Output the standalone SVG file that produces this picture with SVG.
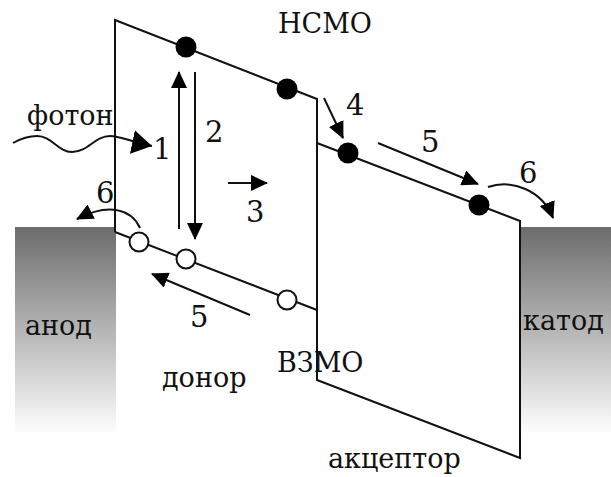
<svg xmlns="http://www.w3.org/2000/svg" width="611" height="477" viewBox="0 0 611 477">
<defs>
<linearGradient id="electrode" x1="0" y1="0" x2="0" y2="1">
<stop offset="0" stop-color="#6c6c6c"/>
<stop offset="1" stop-color="#ffffff"/>
</linearGradient>
<marker id="ah" markerWidth="18" markerHeight="16" refX="16" refY="8" orient="auto" markerUnits="userSpaceOnUse">
<path d="M0,0 L17,8 L0,16 Z" fill="#000"/>
</marker>
<marker id="ahBig" markerWidth="22" markerHeight="24" refX="20" refY="12" orient="auto" markerUnits="userSpaceOnUse">
<path d="M0,0 L20,12 L0,24 Z" fill="#000"/>
</marker>
</defs>
<style>
text { font-family: "DejaVu Serif", "Liberation Serif", serif; font-size: 27px; fill: #111; }
.num { font-size: 29px; }
.band { fill: none; stroke: #111; stroke-width: 2; }
.arr { fill: none; stroke: #111; stroke-width: 2; marker-end: url(#ah); }
.e { fill: #000; }
.h { fill: #fff; stroke: #111; stroke-width: 2; }
</style>

<g id="anode">
<rect x="15" y="227" width="101" height="208" fill="url(#electrode)"/>
<text x="25" y="335">анод</text>
</g>
<g id="cathode">
<rect x="521" y="227" width="90" height="208" fill="url(#electrode)"/>
<text x="523" y="330">катод</text>
</g>

<g id="donor">
<path class="band" d="M115,232 V20 L317,99 V310"/>
<path class="band" d="M115,232 L317,310"/>
<text x="162" y="387">донор</text>
</g>
<g id="acceptor">
<path class="band" d="M317,143 L520,221 V458 L317,380 Z"/>
<text x="328" y="468">акцептор</text>
</g>

<g id="labels">
<text x="278" y="33">НСМО</text>
<text x="277" y="372">ВЗМО</text>
<text x="27" y="125">фотон</text>
</g>

<g id="electrons">
<circle class="e" cx="186" cy="47" r="10.5"/>
<circle class="e" cx="287" cy="89" r="10.5"/>
<circle class="e" cx="348" cy="153" r="10.5"/>
<circle class="e" cx="479" cy="205" r="10.5"/>
</g>
<g id="holes">
<circle class="h" cx="139" cy="242" r="9.5"/>
<circle class="h" cx="186" cy="259" r="9.5"/>
<circle class="h" cx="287" cy="300" r="9.5"/>
</g>

<g id="connectors">
<path d="M13,143 C22,138 28,136 37,136 C52,136 58,152 72,152 C88,152 95,136 110,136 C120,136 128,141 152,146" fill="none" stroke="#111" stroke-width="2" marker-end="url(#ahBig)"/>
<line class="arr" x1="179" y1="229" x2="179" y2="72"/>
<line class="arr" x1="195" y1="72" x2="195" y2="239"/>
<line class="arr" x1="228" y1="183" x2="267" y2="183"/>
<line class="arr" x1="324" y1="98" x2="343" y2="138"/>
<line class="arr" x1="378" y1="143" x2="478" y2="184"/>
<line class="arr" x1="250" y1="315" x2="152" y2="274"/>
<path class="arr" d="M140,228 C132,210 110,202 77,219"/>
<path class="arr" d="M488,187 C512,179 542,190 553,218"/>
</g>

<g id="step-numbers">
<text class="num" x="153" y="159">1</text>
<text class="num" x="205" y="142">2</text>
<text class="num" x="246" y="222">3</text>
<text class="num" x="346" y="115">4</text>
<text class="num" x="421" y="152">5</text>
<text class="num" x="190" y="327">5</text>
<text class="num" x="96" y="203">6</text>
<text class="num" x="519" y="183">6</text>
</g>
</svg>
